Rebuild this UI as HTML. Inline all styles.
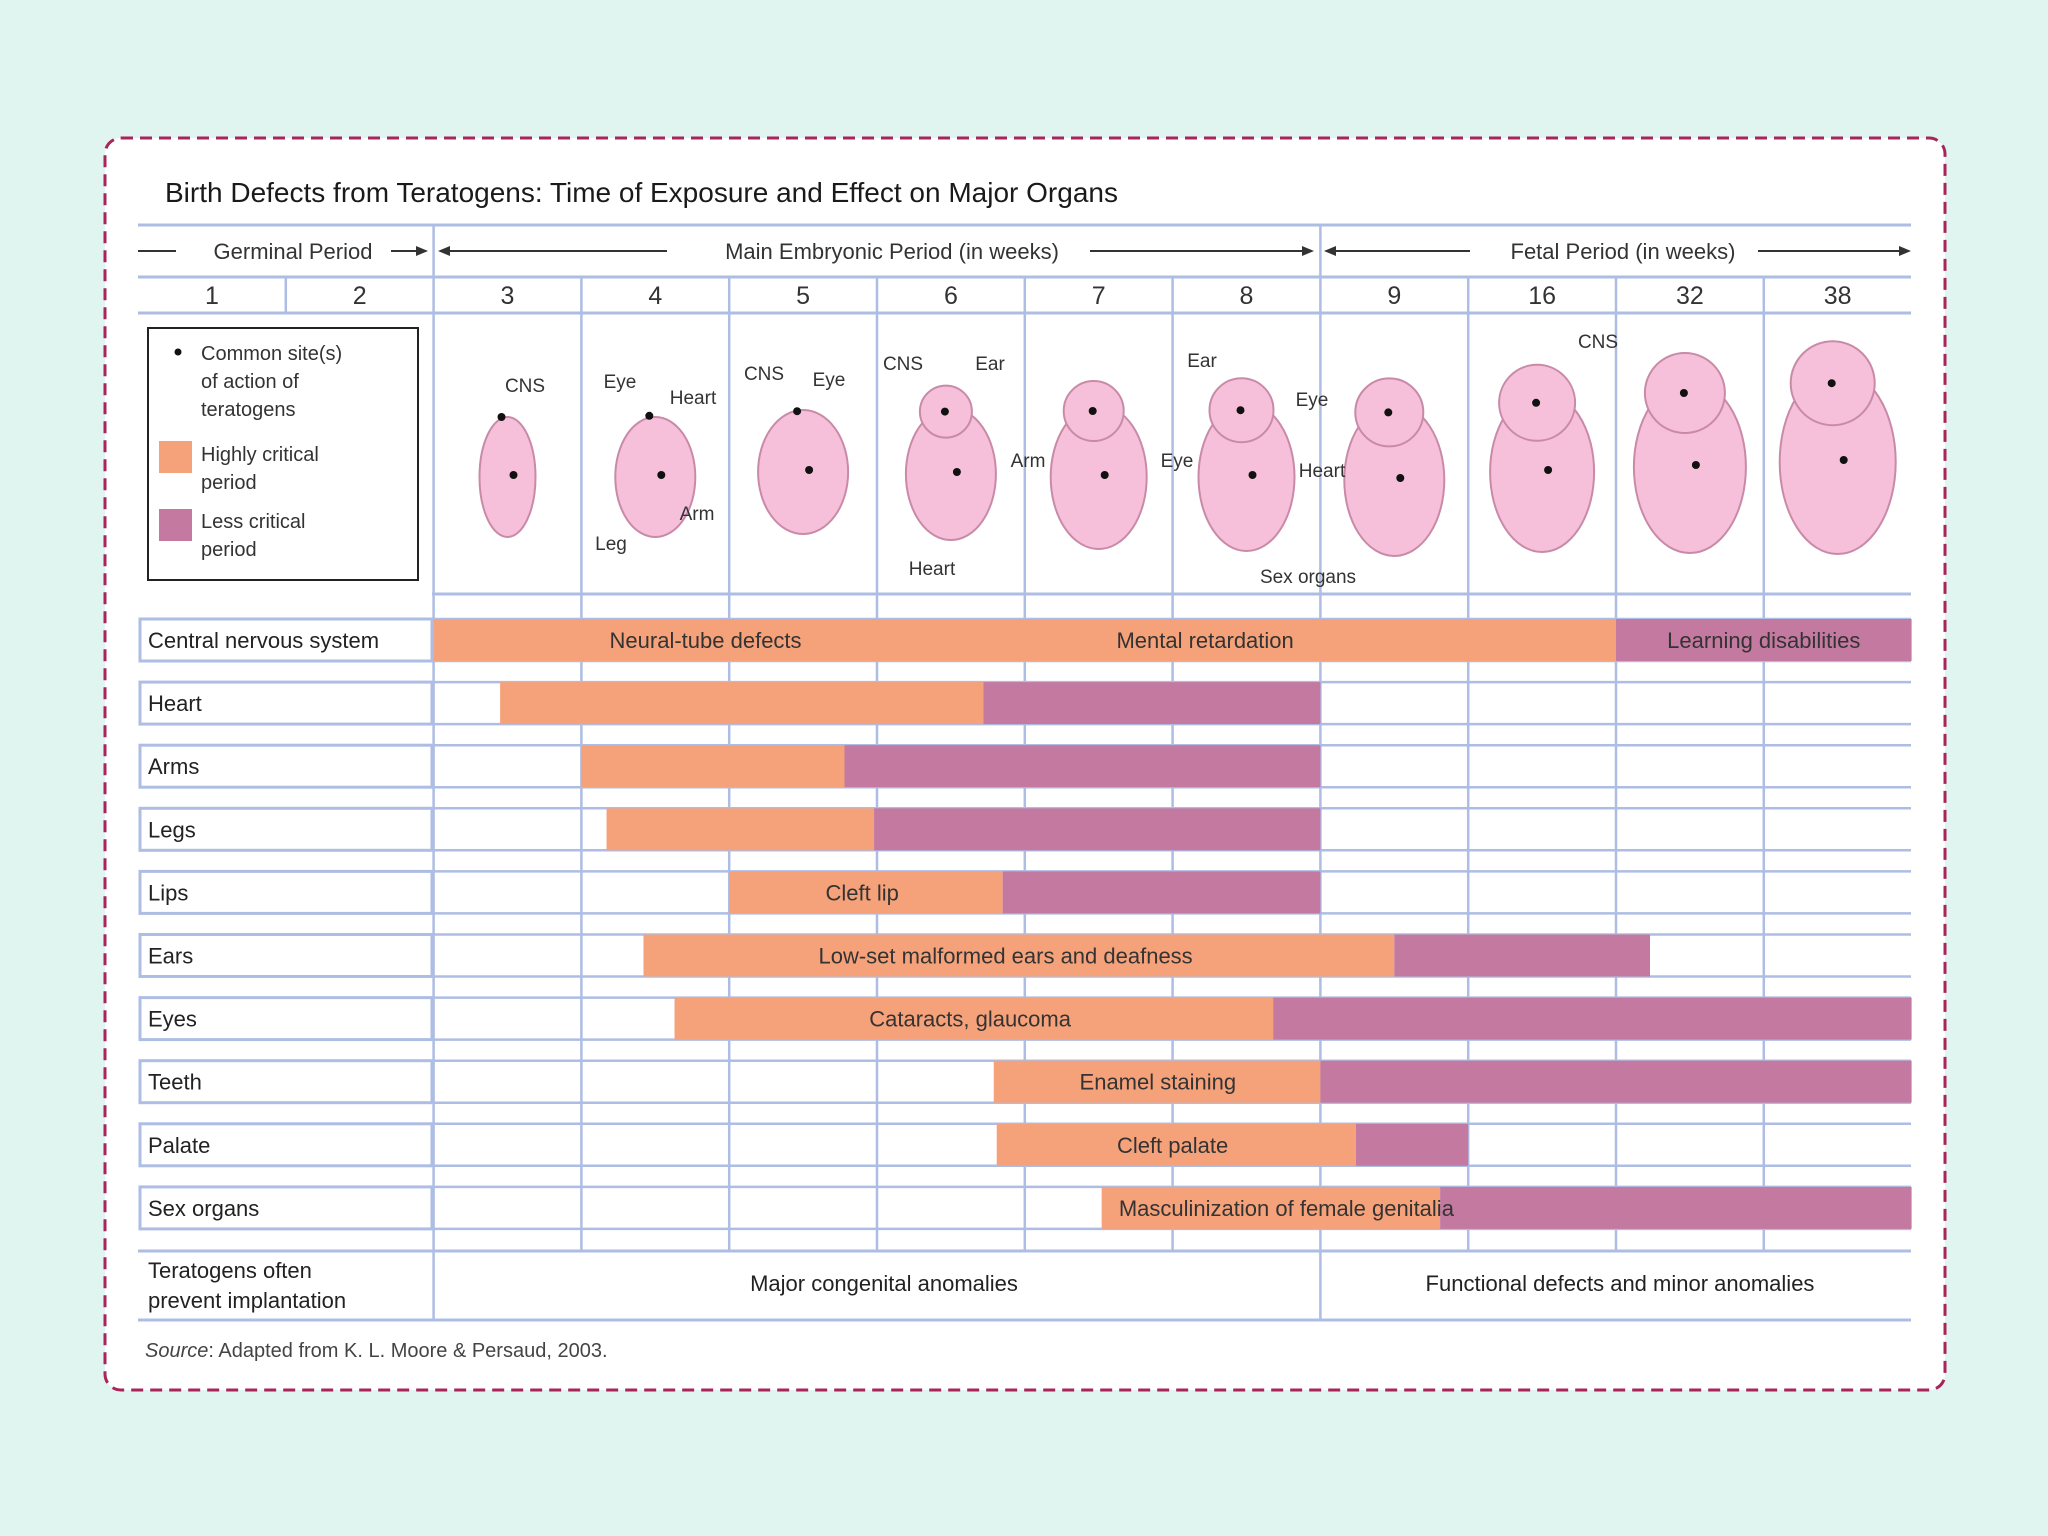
<!DOCTYPE html>
<html><head><meta charset="utf-8">
<style>
html,body{margin:0;padding:0;background:#e0f5ef;}
svg{display:block;font-family:"Liberation Sans",sans-serif;}
</style></head>
<body>
<svg id="chart" width="2048" height="1536" viewBox="0 0 2048 1536">
<rect x="0" y="0" width="2048" height="1536" fill="#e0f5ef"/>
<rect x="105" y="138" width="1840" height="1252" rx="16" fill="#ffffff" stroke="#a8245a" stroke-width="3" stroke-dasharray="12 7"/>
<text x="165" y="202" font-size="28" fill="#1a1a1a">Birth Defects from Teratogens: Time of Exposure and Effect on Major Organs</text>
<g id="grid"></g>
<g id="header">
  <line x1="138" y1="251" x2="176" y2="251" stroke="#333" stroke-width="2"/>
  <text x="293" y="259" font-size="22" fill="#333" text-anchor="middle">Germinal Period</text>
  <line x1="391" y1="251" x2="426" y2="251" stroke="#333" stroke-width="2"/>
  <polygon points="428,251 416,246 416,256" fill="#333"/>
  <polygon points="438,251 450,246 450,256" fill="#333"/>
  <line x1="440" y1="251" x2="667" y2="251" stroke="#333" stroke-width="2"/>
  <text x="892" y="259" font-size="22" fill="#333" text-anchor="middle">Main Embryonic Period (in weeks)</text>
  <line x1="1090" y1="251" x2="1312" y2="251" stroke="#333" stroke-width="2"/>
  <polygon points="1314,251 1302,246 1302,256" fill="#333"/>
  <polygon points="1324,251 1336,246 1336,256" fill="#333"/>
  <line x1="1326" y1="251" x2="1470" y2="251" stroke="#333" stroke-width="2"/>
  <text x="1623" y="259" font-size="22" fill="#333" text-anchor="middle">Fetal Period (in weeks)</text>
  <line x1="1758" y1="251" x2="1908" y2="251" stroke="#333" stroke-width="2"/>
  <polygon points="1911,251 1899,246 1899,256" fill="#333"/>
</g>
<g id="weeks"></g>
<g id="legend">
  <rect x="148" y="328" width="270" height="252" fill="#fff" stroke="#222" stroke-width="2"/>
  <circle cx="178" cy="352" r="3.5" fill="#111"/>
  <text font-size="20" fill="#333"><tspan x="201" y="360">Common site(s)</tspan><tspan x="201" y="388">of action of</tspan><tspan x="201" y="416">teratogens</tspan></text>
  <rect x="159" y="441" width="33" height="32" fill="#f5a27a"/>
  <text font-size="20" fill="#333"><tspan x="201" y="461">Highly critical</tspan><tspan x="201" y="489">period</tspan></text>
  <rect x="159" y="509" width="33" height="32" fill="#c47aa0"/>
  <text font-size="20" fill="#333"><tspan x="201" y="528">Less critical</tspan><tspan x="201" y="556">period</tspan></text>
</g>
<g id="embryos"></g>
<g id="bars"></g>
<g id="footer">
  <text font-size="22" fill="#222"><tspan x="148" y="1278">Teratogens often</tspan><tspan x="148" y="1308">prevent implantation</tspan></text>
  <text x="884" y="1291" font-size="22" fill="#222" text-anchor="middle">Major congenital anomalies</text>
  <text x="1620" y="1291" font-size="22" fill="#222" text-anchor="middle">Functional defects and minor anomalies</text>
  <text x="145" y="1357" font-size="20" fill="#444"><tspan font-style="italic">Source</tspan>: Adapted from K. L. Moore &amp; Persaud, 2003.</text>
</g>
</svg>
<script>
// Data (column units: 0 = start of week 1 column, 12 = end of week 38 column)
const weekLabels = ["1","2","3","4","5","6","7","8","9","16","32","38"];
const organs = ["Central nervous system","Heart","Arms","Legs","Lips","Ears","Eyes","Teeth","Palate","Sex organs"];
const highStart = [2.0, 2.45, 3.0, 3.17, 4.0, 3.42, 3.63, 5.79, 5.81, 6.52];
const highEnd   = [10.0, 5.72, 4.78, 4.98, 5.85, 8.5, 7.68, 8.0, 8.24, 8.81];
const lessEnd   = [12.0, 8.0, 8.0, 8.0, 8.0, 10.23, 12.0, 12.0, 9.0, 12.0];
const barTexts = [
  ["Neural-tube defects",3.84],["Mental retardation",7.22],["Learning disabilities",11.0]
];
const rowTexts = ["", "", "", "", "Cleft lip","Low-set malformed ears and deafness","Cataracts, glaucoma","Enamel staining","Cleft palate","Masculinization of female genitalia"];
const rowTextPos = [0,0,0,0,4.9,5.87,5.63,6.9,7.0,7.77];

const NS="http://www.w3.org/2000/svg";
const X0=138, CW=147.8;
function xs(c){return X0+c*CW;}
const ROW0=619, RP=63.1, BH=42;
function ry(i){return ROW0+i*RP;}
function mk(tag,attrs,parent){const e=document.createElementNS(NS,tag);for(const k in attrs)e.setAttribute(k,attrs[k]);parent.appendChild(e);return e;}
const GC="#aebde3";
const grid=document.getElementById('grid');
[225,277,313].forEach(y=>{mk('line',{x1:138,y1:y,x2:1911,y2:y,stroke:GC,'stroke-width':3},grid);});
mk('line',{x1:432,y1:594,x2:1911,y2:594,stroke:GC,'stroke-width':3},grid);
for(let i=0;i<organs.length;i++){
  mk('line',{x1:432,y1:ry(i),x2:1911,y2:ry(i),stroke:GC,'stroke-width':2.5},grid);
  mk('line',{x1:432,y1:ry(i)+BH,x2:1911,y2:ry(i)+BH,stroke:GC,'stroke-width':2.5},grid);
}
mk('line',{x1:138,y1:1251,x2:1911,y2:1251,stroke:GC,'stroke-width':3},grid);
mk('line',{x1:138,y1:1320,x2:1911,y2:1320,stroke:GC,'stroke-width':3},grid);
for(let c=1;c<=11;c++){
  let y1=277,y2=1251;
  if(c===2||c===8){y1=225;y2=1320;}
  if(c===1){y2=313;}
  mk('line',{x1:xs(c),y1:y1,x2:xs(c),y2:y2,stroke:GC,'stroke-width':2.5},grid);
}
const wg=document.getElementById('weeks');
weekLabels.forEach((w,i)=>{
  const t=mk('text',{x:xs(i+0.5),y:304,'font-size':25,'text-anchor':'middle',fill:'#333'},wg);
  
  
  t.textContent=w;
});
const bg=document.getElementById('bars');
organs.forEach((o,i)=>{
  const y=ry(i);
  const box=mk('rect',{x:140,y:y,width:292,height:BH,fill:'#fff',stroke:GC,'stroke-width':3},bg);
  
  
  const lt=mk('text',{x:148,y:y+29,'font-size':22,fill:'#222'},bg);
  
  
  lt.textContent=o;
  const hb=mk('rect',{x:xs(highStart[i]),y:y,width:xs(highEnd[i])-xs(highStart[i]),height:BH,fill:'#f5a27a'},bg);
  
  
  const lb=mk('rect',{x:xs(highEnd[i]),y:y,width:xs(lessEnd[i])-xs(highEnd[i]),height:BH,fill:'#c47aa0'},bg);
  
  
  if(rowTexts[i]){
    const t=mk('text',{x:xs(rowTextPos[i]),y:y+29,'font-size':22,'text-anchor':'middle',fill:'#333'},bg);
    
    
    t.textContent=rowTexts[i];
  }
});
barTexts.forEach(bt=>{
  const t=mk('text',{x:xs(bt[1]),y:ry(0)+29,'font-size':22,'text-anchor':'middle',fill:'#333'},bg);
  
  
  t.textContent=bt[0];
});
const eg=document.getElementById('embryos');
const emb=[[2.5,465,28,60,20],[3.5,465,40,60,18],[4.5,460,45,62,22],[5.5,462,45,66,26],[6.5,465,48,72,30],[7.5,465,48,74,32],[8.5,468,50,76,34],[9.5,460,52,80,38],[10.5,455,56,86,40],[11.5,450,58,92,42]];
emb.forEach((e,i)=>{
  const cx=xs(e[0]);
  const b=mk('ellipse',{cx:cx,cy:e[1]+12,rx:e[2],ry:e[3],fill:'#f6c0da',stroke:'#c98aa8','stroke-width':2},eg);
  
  
  if(i>2){
    const h=mk('circle',{cx:cx-5,cy:e[1]-e[3]+e[4]*0.6,r:e[4],fill:'#f6c0da',stroke:'#c98aa8','stroke-width':2},eg);
    
    
  }
  mk('circle',{cx:cx-6,cy:e[1]-e[3]+e[4]*0.6,r:4,fill:'#111'},eg);
  mk('circle',{cx:cx+6,cy:e[1]+10,r:4,fill:'#111'},eg);
});
const lbls=[["CNS",525,392],["Eye",620,388],["Heart",693,404],["Arm",697,520],["Leg",611,550],["CNS",764,380],["Eye",829,386],["CNS",903,370],["Ear",990,370],["Arm",1028,467],["Heart",932,575],["Ear",1202,367],["Eye",1312,406],["Eye",1177,467],["Heart",1322,477],["Sex organs",1308,583],["CNS",1598,348]];
lbls.forEach(l=>{
  const t=mk('text',{x:l[1],y:l[2],'font-size':19,'text-anchor':'middle',fill:'#333'},eg);
  
  
  t.textContent=l[0];
});
</script>
</body></html>
